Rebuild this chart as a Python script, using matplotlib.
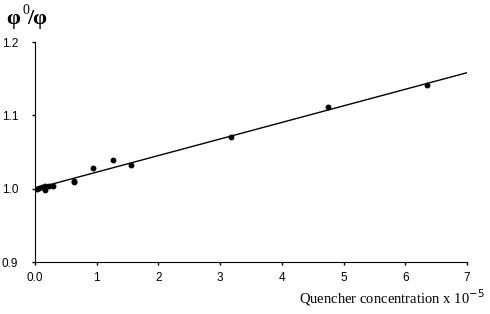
import numpy as np
import matplotlib
matplotlib.use("Agg")
import matplotlib.pyplot as plt

# quencher concentration (x 1e-5) and phi0/phi
conc = [0.0, 0.03, 0.07, 0.11, 0.16, 0.16, 0.23, 0.29, 0.63, 0.63, 0.94, 1.26, 1.55, 3.17, 4.74, 6.35]
ratio = [1.000, 0.999, 1.001, 1.002, 1.003, 0.998, 1.004, 1.004, 1.009, 1.011, 1.028, 1.039, 1.032, 1.070, 1.111, 1.142]
fit_slope = 0.0226
fit_intercept = 1.0

xticks = [0, 1, 2, 3, 4, 5, 6, 7]
xticklabels = ["0.0", "1", "2", "3", "4", "5", "6", "7"]
yticks = [0.9, 1.0, 1.1, 1.2]

fig = plt.figure(figsize=(4.9, 3.14), dpi=100)
ax = fig.add_axes([0.0714, 0.1656, 0.8816, 0.7004])

xs = np.array([0, 7])
ax.plot(xs, fit_intercept + fit_slope * xs, color="black", lw=1)
ax.plot(conc, ratio, "o", color="black", ms=3.2)

ax.set_xlim(0, 7)
ax.set_ylim(0.9, 1.2)
ax.set_xticks(xticks)
ax.set_xticklabels(xticklabels)
ax.set_yticks(yticks)
ax.set_yticklabels(["%.1f" % v for v in yticks])
ax.spines["top"].set_visible(False)
ax.spines["right"].set_visible(False)
ax.tick_params(axis="both", labelsize=8.5, length=2, width=1, direction="out")
ax.tick_params(axis="y", pad=10)
ax.tick_params(axis="x", pad=5)
for lbl in ax.get_xticklabels() + ax.get_yticklabels():
    lbl.set_family("Liberation Sans")

fig.text(0.99, 0.035, "Quencher concentration x 10$^{-5}$", ha="right",
         family="Liberation Serif", fontsize=10.5)
fig.text(0.012, 0.925, "φ", family="Liberation Serif", fontsize=16, fontweight="bold")
fig.text(0.045, 0.955, "0", family="Liberation Serif", fontsize=10)
fig.text(0.056, 0.925, "/φ", family="Liberation Serif", fontsize=16, fontweight="bold")

fig.savefig("out.png", dpi=100)
